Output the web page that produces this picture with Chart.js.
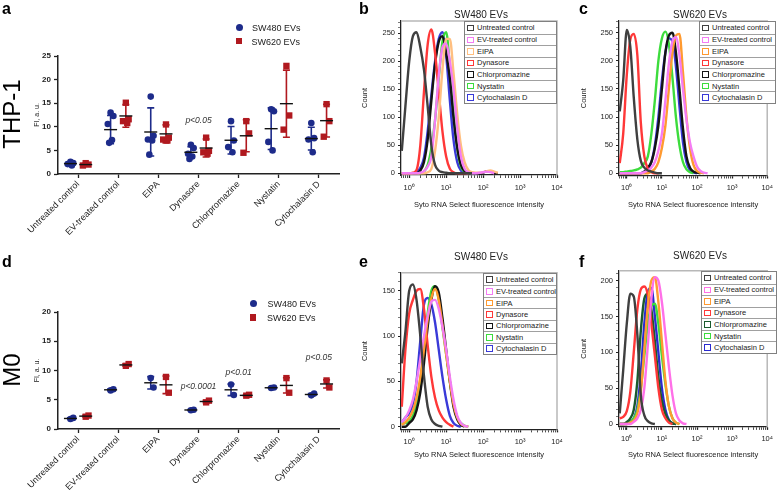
<!DOCTYPE html>
<html>
<head>
<meta charset="utf-8">
<script src="https://cdn.jsdelivr.net/npm/chart.js@4.4.1/dist/chart.umd.min.js"></script>
<style>
  html, body { margin: 0; padding: 0; background: #fff; }
  body { position: relative; width: 778px; height: 491px; overflow: hidden; font-family: "Liberation Sans", Arial, sans-serif; color: #222; }
  canvas { position: absolute; }
  .letter { position: absolute; font-size: 16px; line-height: 16px; font-weight: bold; color: #000; }
  .cell { position: absolute; font-size: 24px; line-height: 24px; white-space: nowrap; transform: translate(-50%, -50%) rotate(-90deg); color: #000; }
  .ttl { position: absolute; font-size: 10px; line-height: 12px; white-space: nowrap; transform: translate(-50%, -50%); }
  .dotleg { position: absolute; font-size: 9px; line-height: 11px; white-space: nowrap; }
  .dotleg i { display: inline-block; vertical-align: middle; margin-right: 9px; position: relative; top: -1px; }
  .hleg { position: absolute; background: #fff; border: 1px solid #808080; box-sizing: border-box; }
  .hleg div { display: flex; align-items: center; box-sizing: border-box; border-top: 1px solid #a0a0a0; font-size: 7.5px; color: #222; white-space: nowrap; overflow: hidden; }
  .hleg div:first-child { border-top: none; }
  .hleg b { display: inline-block; width: 6.5px; height: 6.5px; border: 1.2px solid; box-sizing: border-box; margin: 0 3.5px 0 2px; flex: none; }
</style>
</head>
<body>
<canvas id="cA" width="345" height="250" style="left:0;top:0"></canvas>
<canvas id="cD" width="345" height="241" style="left:0;top:250px"></canvas>
<canvas id="cB" width="215" height="209" style="left:360px;top:0"></canvas>
<canvas id="cC" width="199" height="209" style="left:579px;top:0"></canvas>
<canvas id="cE" width="215" height="209" style="left:360px;top:250px"></canvas>
<canvas id="cF" width="199" height="209" style="left:579px;top:250px"></canvas>

<div class="letter" style="left:2px;top:1px">a</div>
<div class="letter" style="left:359px;top:1px">b</div>
<div class="letter" style="left:579px;top:1px">c</div>
<div class="letter" style="left:2px;top:254px">d</div>
<div class="letter" style="left:359px;top:254px">e</div>
<div class="letter" style="left:579px;top:254px">f</div>
<div class="cell" style="left:12px;top:114px">THP-1</div>
<div class="cell" style="left:12px;top:370px">M0</div>
<div class="ttl" style="left:481px;top:15px">SW480 EVs</div>
<div class="ttl" style="left:700px;top:15px">SW620 EVs</div>
<div class="ttl" style="left:481px;top:257px">SW480 EVs</div>
<div class="ttl" style="left:700px;top:256px">SW620 EVs</div>
<div id="legends"></div>

<script>
// ---- scatter panels (a: THP-1, d: M0), FI in a.u. ----
const categories = ['Untreated control', 'EV-treated control', 'EIPA', 'Dynasore', 'Chlorpromazine', 'Nystatin', 'Cytochalasin D'];
const seriesNames = ['SW480 EVs', 'SW620 EVs'];

const thpSW480 = [[2.6, 2.3, 2.1, 1.8], [13.0, 12.3, 10.6, 7.2, 6.6], [16.4, 8.1, 7.3, 7.1, 4.1], [6.2, 5.5, 4.3, 3.7, 3.2], [11.2, 7.1, 5.7, 4.6], [13.7, 13.3, 6.8, 5.0], [10.8, 7.6, 7.3, 4.6]];
const thpSW480Mean = [2.2, 9.4, 8.9, 4.6, 7.15, 9.6, 7.5];
const thpSW480Sd = [0.35, 3.0, 5.1, 1.2, 2.9, 4.4, 2.4];
const thpSW620 = [[2.3, 2.0, 1.8], [15.1, 11.6, 11.2, 10.8], [10.5, 7.7, 7.3, 7.1], [7.7, 4.9, 4.6, 4.3], [11.2, 8.6, 4.5], [22.9, 12.4, 9.4], [14.8, 11.2, 7.9]];
const thpSW620Mean = [2.0, 12.3, 8.5, 5.5, 8.1, 14.9, 11.3];
const thpSW620Sd = [0.25, 2.4, 1.9, 1.9, 3.4, 7.1, 3.45];
const thpNotes = [['p<0.05', 3, 11.2]];

const m0SW480 = [[1.7, 1.9], [6.6, 6.8], [8.7, 7.1], [3.2, 3.3], [7.6, 5.8], [7.0, 7.1], [5.75, 6.05]];
const m0SW480Mean = [1.8, 6.7, 7.9, 3.25, 6.7, 7.05, 5.9];
const m0SW480Sd = [0.1, 0.15, 1.05, 0.07, 1.0, 0.05, 0.15];
const m0SW620 = [[2.1, 2.3], [10.8, 11.1], [8.9, 6.2], [4.55, 4.85], [5.7, 5.85], [8.7, 6.2], [8.3, 7.1]];
const m0SW620Mean = [2.2, 10.95, 7.55, 4.7, 5.75, 7.45, 7.7];
const m0SW620Sd = [0.15, 0.2, 1.5, 0.2, 0.1, 1.3, 0.7];
const m0Notes = [['p<0.0001', 3, 7.2], ['p<0.01', 4, 9.6], ['p<0.05', 6, 12.25]];

// ---- histograms (b, c, e, f), counts per log bin ----
const treatments = ['Untreated control', 'EV-treated control', 'EIPA', 'Dynasore', 'Chlorpromazine', 'Nystatin', 'Cytochalasin D'];
const histBins = [0.63, 0.79, 1, 1.26, 1.58, 2, 2.51, 3.16, 3.98, 5.01, 6.31, 7.94, 10, 12.6, 15.8, 20, 25.1, 31.6, 39.8, 50.1, 63.1, 79.4, 100, 126, 158, 200, 251];
const decadeLabels = ['10⁰', '10¹', '10²', '10³', '10⁴'];

const bUntreated = [40, 120, 200, 245, 252, 225, 185, 120, 50, 15, 5, 2, 1, 0, 0, 0, 0, 0, 0, 0];
const bEvTreated = [0, 0, 0, 0, 0, 1, 4, 12, 30, 95, 175, 225, 232, 200, 150, 80, 30, 8, 2, 0, 0, 1, 2, 3, 2, 0];
const bEipa = [0, 0, 0, 0, 0, 0, 0, 2, 8, 40, 100, 185, 240, 240, 180, 105, 50, 20, 6, 2, 1, 1, 2, 4, 5, 3, 1];
const bDynasore = [0, 0, 0, 1, 6, 50, 145, 230, 257, 215, 145, 75, 30, 8, 2, 0, 0, 0, 0];
const bChlorpromazine = [0, 0, 0, 0, 0, 5, 20, 60, 130, 195, 235, 245, 215, 170, 100, 45, 15, 4, 1, 0, 0, 0, 1, 4, 3, 1, 0];
const bNystatin = [0, 0, 0, 0, 0, 0, 3, 15, 45, 95, 170, 235, 252, 190, 110, 45, 12, 3, 0, 0, 0];
const bCytochalasin = [0, 0, 0, 0, 2, 10, 28, 75, 140, 200, 240, 252, 210, 130, 60, 20, 5, 1, 0, 0, 0];

const cUntreated = [110, 165, 255, 225, 135, 60, 22, 10, 5, 3, 1, 0, 0];
const cEvTreated = [0, 0, 0, 0, 0, 0, 0, 2, 5, 10, 20, 40, 70, 130, 195, 235, 242, 210, 150, 95, 55, 30, 12, 4, 1, 0];
const cEipa = [0, 0, 0, 0, 0, 0, 0, 0, 0, 3, 8, 20, 45, 85, 150, 215, 245, 248, 180, 100, 45, 15, 4, 1, 0];
const cDynasore = [18, 70, 175, 238, 248, 210, 90, 30, 8, 2, 0, 0];
const cChlorpromazine = [0, 0, 0, 0, 0, 0, 0, 3, 10, 20, 45, 85, 150, 215, 245, 250, 215, 150, 80, 30, 10, 3, 1, 0];
const cNystatin = [2, 2, 3, 4, 5, 7, 10, 18, 30, 70, 130, 200, 240, 252, 230, 170, 100, 50, 20, 7, 2, 0];
const cCytochalasin = [0, 0, 0, 0, 0, 0, 0, 3, 8, 20, 50, 100, 165, 215, 240, 235, 190, 120, 55, 20, 5, 1, 0];

const eUntreated = [70, 105, 150, 157, 140, 100, 56, 22, 8, 3, 1, 0];
const eEvTreated = [5, 10, 18, 30, 50, 75, 100, 122, 138, 140, 130, 110, 85, 55, 30, 12, 4, 1, 0];
const eEipa = [2, 5, 10, 18, 32, 55, 85, 118, 142, 152, 140, 112, 80, 50, 25, 10, 3, 1, 0];
const eDynasore = [22, 85, 125, 140, 150, 152, 130, 90, 55, 32, 18, 10, 5, 2, 0];
const eChlorpromazine = [0, 0, 4, 8, 18, 38, 70, 110, 140, 155, 148, 120, 85, 50, 22, 8, 2, 0];
const eNystatin = [3, 4, 6, 12, 25, 50, 85, 125, 150, 155, 140, 110, 80, 50, 25, 10, 4, 1, 0];
const eCytochalasin = [5, 10, 15, 25, 50, 95, 135, 142, 135, 115, 85, 55, 30, 12, 4, 1, 0];

const fUntreated = [15, 75, 140, 182, 178, 125, 40, 12, 4, 1, 0];
const fEvTreated = [0, 0, 0, 0, 3, 8, 20, 50, 110, 175, 205, 200, 170, 125, 80, 40, 15, 5, 1, 0];
const fEipa = [0, 0, 0, 2, 5, 15, 45, 105, 165, 200, 205, 170, 115, 60, 25, 8, 2, 0];
const fDynasore = [8, 10, 18, 45, 100, 160, 188, 192, 180, 140, 95, 50, 20, 8, 2, 0];
const fChlorpromazine = [0, 0, 3, 8, 20, 60, 130, 175, 182, 160, 115, 65, 32, 14, 5, 1, 0];
const fNystatin = [0, 0, 0, 3, 8, 20, 50, 95, 140, 165, 168, 140, 95, 55, 25, 8, 2, 0];
const fCytochalasin = [0, 0, 0, 3, 8, 25, 70, 140, 185, 190, 150, 100, 50, 20, 6, 1, 0];

const BLUE = '#1d2b8a';
const RED = '#b0191f';
const jitter = [0, 0.07, -0.07, 0.035, -0.035, 0.1];

Chart.defaults.font.family = '"Liberation Sans", Arial, sans-serif';
Chart.defaults.color = '#222';

function pointsFor(groups, offset) {
    const pts = [];
    groups.forEach((vals, i) => {
        vals.forEach((v, k) => pts.push({ x: i + offset + jitter[k], y: v }));
    });
    return pts;
}

function scatterPanel(id, s480, mean480, sd480, s620, mean620, sd620, yMax, notes, padTop, xH) {
    const groups = [
        { mean: mean480, sd: sd480, offset: -0.19, color: BLUE },
        { mean: mean620, sd: sd620, offset: 0.19, color: RED }
    ];

    // error bars under the points, mean line and p-values on top
    const stats = {
        id: 'stats',
        beforeDatasetsDraw(chart) {
            const { ctx, scales: { x, y } } = chart;
            ctx.save();
            ctx.lineWidth = 1.6;
            groups.forEach(g => {
                ctx.strokeStyle = g.color;
                g.mean.forEach((m, i) => {
                    const px = x.getPixelForValue(i + g.offset);
                    const hi = y.getPixelForValue(m + g.sd[i]);
                    const lo = y.getPixelForValue(m - g.sd[i]);
                    ctx.beginPath();
                    ctx.moveTo(px, hi); ctx.lineTo(px, lo);
                    ctx.moveTo(px - 3.5, hi); ctx.lineTo(px + 3.5, hi);
                    ctx.moveTo(px - 3.5, lo); ctx.lineTo(px + 3.5, lo);
                    ctx.stroke();
                });
            });
            ctx.restore();
        },
        afterDatasetsDraw(chart) {
            const { ctx, scales: { x, y } } = chart;
            ctx.save();
            ctx.strokeStyle = '#111';
            ctx.lineWidth = 1.4;
            groups.forEach(g => {
                g.mean.forEach((m, i) => {
                    const px = x.getPixelForValue(i + g.offset);
                    const py = y.getPixelForValue(m);
                    ctx.beginPath();
                    ctx.moveTo(px - 6.5, py); ctx.lineTo(px + 6.5, py);
                    ctx.stroke();
                });
            });
            ctx.fillStyle = '#333';
            ctx.font = 'italic 8.5px "Liberation Sans", Arial, sans-serif';
            ctx.textAlign = 'center';
            ctx.textBaseline = 'middle';
            notes.forEach(([text, cat, val]) => {
                ctx.fillText(text, x.getPixelForValue(cat), y.getPixelForValue(val));
            });
            ctx.restore();
        }
    };

    new Chart(document.getElementById(id), {
        type: 'scatter',
        data: {
            datasets: [
                { label: seriesNames[0], data: pointsFor(s480, -0.19), pointStyle: 'circle', pointRadius: 3.3,
                  backgroundColor: BLUE, borderColor: BLUE, pointBorderWidth: 0 },
                { label: seriesNames[1], data: pointsFor(s620, 0.19), pointStyle: 'rect', pointRadius: 4.5,
                  backgroundColor: RED, borderColor: RED, pointBorderWidth: 0 }
            ]
        },
        options: {
            responsive: false,
            animation: false,
            layout: { padding: { top: padTop, right: 6, left: 0, bottom: 0 } },
            plugins: { legend: { display: false }, tooltip: { enabled: false } },
            scales: {
                x: {
                    type: 'linear', min: -0.5, max: 6.5,
                    afterBuildTicks: s => { s.ticks = categories.map((c, i) => ({ value: i })); },
                    afterFit: s => { s.height = xH; },
                    ticks: { callback: v => categories[v], minRotation: 45, maxRotation: 45, autoSkip: false,
                             font: { size: 9 }, color: '#222', padding: 1 },
                    grid: { drawOnChartArea: false, drawTicks: true, tickLength: 4, tickColor: '#222', tickWidth: 1.3 },
                    border: { color: '#222', width: 1.5 }
                },
                y: {
                    min: 0, max: yMax,
                    afterFit: s => { s.width = 58; },
                    ticks: { stepSize: 5, font: { size: 8, weight: 'bold' }, color: '#222', padding: 3 },
                    grid: { drawOnChartArea: false, drawTicks: true, tickLength: 4, tickColor: '#222', tickWidth: 1.3 },
                    border: { color: '#222', width: 1.5 },
                    title: { display: true, text: 'FI, a. u.', font: { size: 7 }, color: '#222', padding: { top: 33, bottom: 0 } }
                }
            }
        },
        plugins: [stats]
    });
}

scatterPanel('cA', thpSW480, thpSW480Mean, thpSW480Sd, thpSW620, thpSW620Mean, thpSW620Sd, 25, thpNotes, 56, 76);
scatterPanel('cD', m0SW480, m0SW480Mean, m0SW480Sd, m0SW620, m0SW620Mean, m0SW620Sd, 20, m0Notes, 62, 62);

// legend for the scatter panels
function dotLegend(left, top1, top2, gap) {
    const html = seriesNames.map((name, k) => {
        const mark = k === 0
            ? `<i style="width:7px;height:7px;border-radius:50%;background:${BLUE};margin-right:${gap}px"></i>`
            : `<i style="width:6.5px;height:6.5px;background:${RED};margin-right:${gap}px"></i>`;
        return `<div class="dotleg" style="left:${left}px;top:${k === 0 ? top1 : top2}px">${mark}${name}</div>`;
    }).join('');
    document.getElementById('legends').insertAdjacentHTML('beforeend', html);
}
dotLegend(235.5, 22.5, 36.5, 9.5);
dotLegend(249.5, 298.8, 312.8, 11);

// ---- histograms ----
const colorsB = ['#404040', '#f47cf4', '#ffbf80', '#ff3838', '#141414', '#3ddc3d', '#3a3ad8'];
const colorsCE = ['#404040', '#f47cf4', '#ff9a30', '#ff3838', '#141414', '#3ddc3d', '#3a3ad8'];
const colorsF = ['#404040', '#ff70e8', '#ff9a30', '#ff3838', '#1b5a2c', '#3ddc3d', '#2a2ad0'];

const isDecade = v => Math.abs(Math.log10(v) - Math.round(Math.log10(v))) < 1e-6;

function keepWholeSteps(scale) {
    scale.ticks = scale.ticks.filter(t => {
        const m = t.value / Math.pow(10, Math.floor(Math.log10(t.value) + 1e-9));
        return Math.abs(m - Math.round(m)) < 1e-6;
    });
}

const framePlugin = {
    id: 'frame',
    afterDraw(chart) {
        const { ctx, chartArea: a } = chart;
        ctx.save();
        ctx.strokeStyle = '#b8b8b8';
        ctx.lineWidth = 1.5;
        ctx.beginPath();
        ctx.moveTo(a.left, a.top);
        ctx.lineTo(a.right, a.top);
        ctx.lineTo(a.right, a.bottom);
        ctx.stroke();
        ctx.restore();
    }
};

function histPanel(id, curves, colors, yMin, yMax, yW, xH, padTop, padRight) {
    new Chart(document.getElementById(id), {
        type: 'line',
        data: {
            datasets: curves.map((ys, k) => ({
                label: treatments[k],
                data: ys.map((y, i) => ({ x: histBins[i], y: y })),
                borderColor: colors[k],
                borderWidth: 2.4,
                pointRadius: 0,
                fill: false,
                cubicInterpolationMode: 'monotone'
            }))
        },
        options: {
            responsive: false,
            animation: false,
            layout: { padding: { top: padTop, right: padRight, left: 0, bottom: 0 } },
            plugins: { legend: { display: false }, tooltip: { enabled: false } },
            scales: {
                x: {
                    type: 'logarithmic', min: 0.62, max: 10000,
                    afterBuildTicks: keepWholeSteps,
                    afterFit: s => { s.height = xH; },
                    ticks: {
                        autoSkip: false, maxRotation: 0, minRotation: 0, padding: 5,
                        font: { size: 7.5 }, color: '#222',
                        callback: v => (isDecade(v) ? decadeLabels[Math.round(Math.log10(v))] : '')
                    },
                    grid: { drawOnChartArea: false, drawTicks: true, tickLength: 3, tickColor: '#222',
                            tickWidth: c => (c.tick && isDecade(c.tick.value) ? 1.3 : 0.8) },
                    border: { color: '#222', width: 1.3 },
                    title: { display: true, text: 'Syto RNA Select fluorescence intensity', font: { size: 7.5 },
                             color: '#222', padding: { top: 0, bottom: 0 } }
                },
                y: {
                    min: yMin, max: yMax,
                    afterFit: s => { s.width = yW; },
                    ticks: {
                        stepSize: 10, includeBounds: false, autoSkip: false, padding: 3,
                        font: { size: 7.5 }, color: '#222',
                        callback: v => (v % 50 === 0 ? v : '')
                    },
                    grid: { drawOnChartArea: false, drawTicks: true, tickLength: 3, tickColor: '#222',
                            tickWidth: c => (c.tick && c.tick.value % 50 === 0 ? 1.2 : 0.6) },
                    border: { color: '#222', width: 1.3 },
                    title: { display: true, text: 'Count', font: { size: 7.5 }, color: '#222', padding: { top: 0, bottom: 0 } }
                }
            }
        },
        plugins: [framePlugin]
    });
}

histPanel('cB', [bUntreated, bEvTreated, bEipa, bDynasore, bChlorpromazine, bNystatin, bCytochalasin], colorsB, -3, 272, 41, 34, 21, 18);
histPanel('cC', [cUntreated, cEvTreated, cEipa, cDynasore, cChlorpromazine, cNystatin, cCytochalasin], colorsCE, -4, 271, 40, 33.5, 21, 3);
histPanel('cE', [eUntreated, eEvTreated, eEipa, eDynasore, eChlorpromazine, eNystatin, eCytochalasin], colorsCE, -3, 170, 41, 29.6, 22.7, 18);
histPanel('cF', [fUntreated, fEvTreated, fEipa, fDynasore, fChlorpromazine, fNystatin, fCytochalasin], colorsF, -4, 214, 40, 32.1, 20.7, 3);

// boxed legends of the histograms
function boxLegend(left, top, width, height, colors) {
    const rowH = (height - 2) / treatments.length;
    const rows = treatments.map((t, k) =>
        `<div style="height:${rowH}px"><b style="border-color:${colors[k]}"></b>${t}</div>`).join('');
    document.getElementById('legends').insertAdjacentHTML('beforeend',
        `<div class="hleg" style="left:${left}px;top:${top}px;width:${width}px;height:${height}px">${rows}</div>`);
}
boxLegend(464, 21, 93, 83, colorsB);
boxLegend(699, 21, 77, 83, colorsCE);
boxLegend(483, 273, 74, 82, colorsCE);
boxLegend(701, 271, 76, 83, colorsF);
</script>
</body>
</html>
